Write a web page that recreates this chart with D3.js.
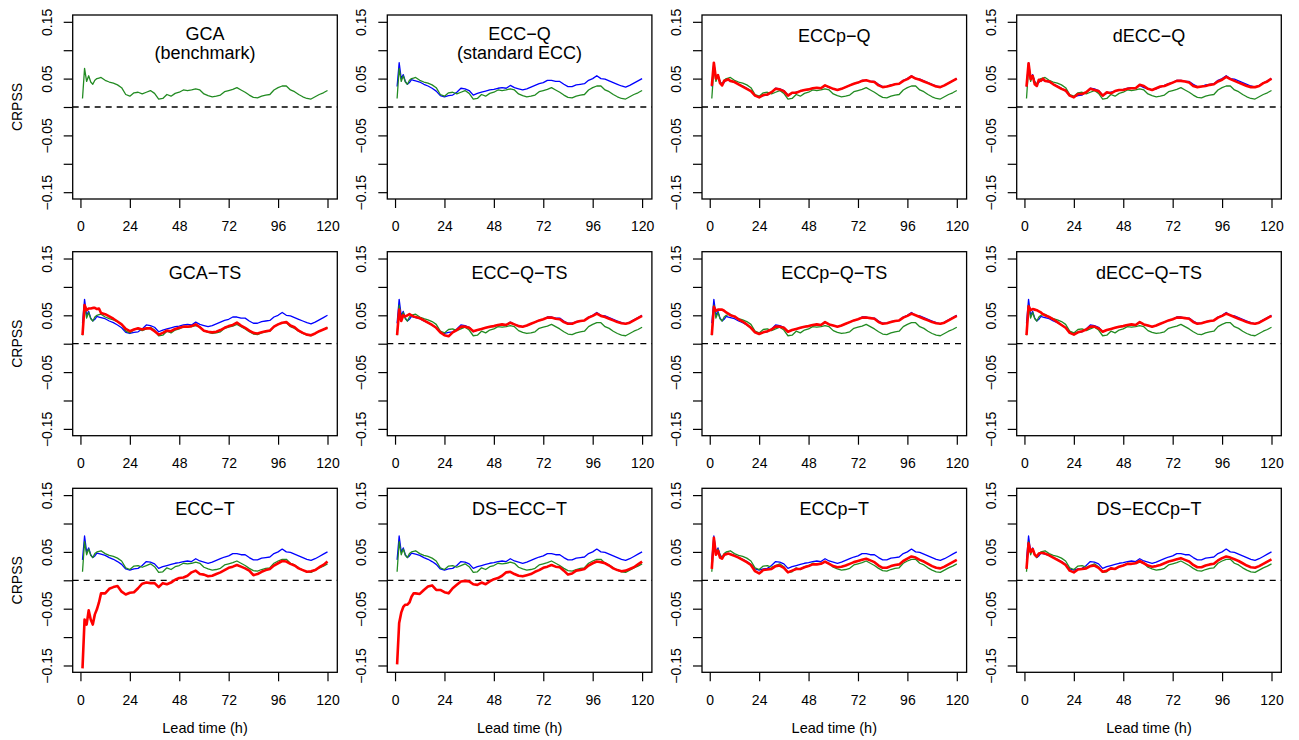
<!DOCTYPE html>
<html><head><meta charset="utf-8">
<script src="https://cdn.jsdelivr.net/npm/d3@7"></script>
<style>body{margin:0;background:#fff} svg{display:block}</style>
</head><body><svg id="c" width="1299" height="740"></svg>
<script>
// ---- data ----
const lead = [1,2,3,4,5,6,7,8,9,10,12,14,16,18,20,22,24,26,28,30,32,34,36,38,40,42,44,46,48,50,52,54,56,58,60,62,64,66,68,70,72,74,76,78,80,82,84,86,88,90,92,94,96,98,100,102,104,106,108,110,112,114,116,118,120];
const xTicks = [0,24,48,72,96,120];
const yTicks = [-0.15,-0.10,-0.05,0,0.05,0.10,0.15];
const yLabelText = ["\u22120.15","","\u22120.05","","0.05","","0.15"];

// GCA (benchmark), green
const gca = [0.015,0.068,0.045,0.055,0.044,0.040,0.047,0.050,0.051,0.052,
 0.047,0.044,0.042,0.039,0.034,0.022,0.019,0.025,0.026,0.023,
 0.026,0.029,0.024,0.014,0.015,0.022,0.019,0.024,0.026,0.030,
 0.029,0.030,0.032,0.030,0.023,0.020,0.018,0.019,0.021,0.027,
 0.029,0.031,0.034,0.030,0.026,0.021,0.017,0.016,0.019,0.021,
 0.022,0.030,0.034,0.037,0.037,0.030,0.027,0.022,0.018,0.015,
 0.014,0.018,0.022,0.025,0.029];
// ECC-Q (standard ECC), blue
const eccQ = [0.036,0.078,0.050,0.057,0.045,0.040,0.043,0.048,0.047,0.046,
 0.044,0.040,0.037,0.033,0.028,0.020,0.018,0.020,0.021,0.026,
 0.033,0.032,0.029,0.021,0.024,0.026,0.028,0.030,0.031,0.033,
 0.034,0.033,0.038,0.034,0.032,0.030,0.032,0.035,0.038,0.041,
 0.043,0.047,0.047,0.045,0.045,0.040,0.036,0.036,0.039,0.040,
 0.041,0.047,0.050,0.055,0.050,0.049,0.046,0.043,0.040,0.037,
 0.035,0.038,0.042,0.046,0.050];
// red series (one per panel)
const eccpQ = [0.037,0.078,0.050,0.056,0.042,0.038,0.046,0.047,0.049,0.046,
 0.044,0.040,0.036,0.032,0.028,0.020,0.017,0.021,0.022,0.026,
 0.032,0.031,0.028,0.020,0.025,0.025,0.028,0.030,0.031,0.033,
 0.034,0.033,0.038,0.035,0.032,0.030,0.032,0.035,0.038,0.041,
 0.043,0.046,0.047,0.045,0.044,0.038,0.035,0.036,0.038,0.040,
 0.041,0.046,0.049,0.054,0.050,0.048,0.045,0.042,0.039,0.036,
 0.035,0.038,0.042,0.046,0.050];
const deccQ = [0.036,0.077,0.049,0.055,0.040,0.037,0.048,0.046,0.050,0.046,
 0.045,0.040,0.036,0.032,0.029,0.020,0.017,0.023,0.023,0.026,
 0.032,0.030,0.028,0.020,0.026,0.024,0.028,0.030,0.030,0.032,
 0.033,0.033,0.039,0.037,0.032,0.030,0.033,0.036,0.037,0.040,
 0.043,0.046,0.046,0.045,0.043,0.037,0.035,0.036,0.037,0.039,
 0.040,0.045,0.048,0.053,0.049,0.046,0.043,0.040,0.037,0.035,
 0.035,0.037,0.042,0.045,0.050];
const gcaTS = [0.015,0.068,0.059,0.062,0.062,0.063,0.063,0.061,0.062,0.054,
 0.052,0.048,0.044,0.039,0.034,0.026,0.022,0.025,0.027,0.025,
 0.027,0.027,0.022,0.016,0.019,0.023,0.022,0.026,0.028,0.030,
 0.030,0.031,0.034,0.029,0.023,0.021,0.020,0.021,0.024,0.028,
 0.031,0.033,0.037,0.032,0.028,0.023,0.019,0.018,0.020,0.022,
 0.023,0.030,0.034,0.037,0.038,0.032,0.029,0.023,0.019,0.016,
 0.015,0.018,0.022,0.025,0.028];
const eccQTS = [0.015,0.060,0.040,0.050,0.048,0.050,0.052,0.050,0.048,0.047,
 0.045,0.041,0.037,0.033,0.028,0.020,0.015,0.013,0.020,0.024,
 0.030,0.030,0.028,0.022,0.024,0.026,0.028,0.030,0.031,0.033,
 0.034,0.033,0.037,0.034,0.031,0.030,0.032,0.035,0.038,0.041,
 0.043,0.046,0.046,0.044,0.043,0.038,0.035,0.035,0.038,0.040,
 0.041,0.046,0.049,0.053,0.049,0.047,0.044,0.041,0.038,0.036,
 0.035,0.037,0.041,0.045,0.049];
const eccpQTS = [0.015,0.065,0.058,0.060,0.060,0.060,0.058,0.055,0.053,0.050,
 0.048,0.043,0.039,0.034,0.028,0.020,0.017,0.020,0.022,0.025,
 0.030,0.030,0.028,0.021,0.024,0.026,0.028,0.030,0.031,0.033,
 0.034,0.033,0.038,0.034,0.032,0.030,0.032,0.035,0.038,0.041,
 0.043,0.046,0.046,0.045,0.044,0.038,0.035,0.036,0.038,0.040,
 0.041,0.046,0.049,0.053,0.050,0.047,0.044,0.041,0.038,0.036,
 0.035,0.037,0.041,0.045,0.049];
const deccQTS = [0.015,0.066,0.059,0.061,0.060,0.059,0.057,0.055,0.052,0.050,
 0.047,0.043,0.038,0.033,0.028,0.019,0.016,0.020,0.022,0.025,
 0.030,0.030,0.027,0.021,0.024,0.026,0.028,0.030,0.031,0.033,
 0.034,0.033,0.038,0.034,0.032,0.030,0.032,0.035,0.038,0.041,
 0.043,0.046,0.046,0.045,0.044,0.038,0.035,0.036,0.038,0.040,
 0.041,0.046,0.049,0.053,0.050,0.047,0.044,0.041,0.038,0.036,
 0.035,0.037,0.041,0.045,0.049];
const eccT = [-0.155,-0.069,-0.078,-0.053,-0.069,-0.078,-0.060,-0.051,-0.039,-0.023,
 -0.023,-0.015,-0.012,-0.010,-0.020,-0.025,-0.022,-0.021,-0.014,-0.006,
 -0.004,-0.005,-0.005,-0.012,-0.005,-0.007,-0.004,0.001,0.004,0.005,
 0.008,0.014,0.017,0.011,0.010,0.007,0.008,0.011,0.014,0.018,
 0.022,0.024,0.027,0.024,0.021,0.017,0.009,0.011,0.015,0.018,
 0.020,0.026,0.030,0.034,0.033,0.029,0.026,0.021,0.018,0.015,
 0.016,0.018,0.023,0.027,0.033];
const dsEccT = [-0.148,-0.075,-0.057,-0.047,-0.043,-0.043,-0.039,-0.029,-0.023,-0.023,
 -0.024,-0.017,-0.011,-0.009,-0.017,-0.017,-0.021,-0.023,-0.014,-0.008,
 -0.002,-0.001,-0.002,-0.007,-0.008,-0.004,-0.007,-0.002,0.002,0.004,
 0.008,0.014,0.015,0.011,0.008,0.007,0.009,0.011,0.015,0.018,
 0.022,0.024,0.027,0.024,0.023,0.017,0.010,0.012,0.017,0.018,
 0.020,0.026,0.030,0.033,0.032,0.030,0.026,0.021,0.018,0.016,
 0.017,0.020,0.023,0.028,0.033];
const eccpT = [0.020,0.075,0.045,0.052,0.040,0.038,0.045,0.046,0.047,0.046,
 0.043,0.040,0.036,0.032,0.027,0.016,0.012,0.018,0.019,0.020,
 0.025,0.026,0.022,0.014,0.017,0.020,0.020,0.023,0.025,0.028,
 0.028,0.029,0.033,0.029,0.025,0.023,0.024,0.026,0.029,0.032,
 0.034,0.036,0.038,0.035,0.032,0.026,0.022,0.022,0.025,0.027,
 0.028,0.034,0.038,0.042,0.040,0.036,0.033,0.029,0.025,0.022,
 0.021,0.024,0.028,0.032,0.036];
const dsEccpT = [0.020,0.065,0.050,0.055,0.045,0.042,0.047,0.048,0.048,0.047,
 0.044,0.040,0.036,0.032,0.027,0.017,0.014,0.019,0.020,0.021,
 0.025,0.026,0.022,0.015,0.017,0.021,0.020,0.024,0.026,0.029,
 0.029,0.030,0.034,0.030,0.026,0.024,0.025,0.027,0.030,0.033,
 0.035,0.037,0.039,0.036,0.033,0.027,0.023,0.023,0.026,0.028,
 0.029,0.035,0.039,0.042,0.040,0.037,0.034,0.030,0.026,0.023,
 0.022,0.025,0.029,0.033,0.037];

const panels = [
 {title:["GCA","(benchmark)"], blue:false, red:null},
 {title:["ECC\u2212Q","(standard ECC)"], blue:true, red:null},
 {title:["ECCp\u2212Q"], blue:true, red:eccpQ},
 {title:["dECC\u2212Q"], blue:true, red:deccQ},
 {title:["GCA\u2212TS"], blue:true, red:gcaTS},
 {title:["ECC\u2212Q\u2212TS"], blue:true, red:eccQTS},
 {title:["ECCp\u2212Q\u2212TS"], blue:true, red:eccpQTS},
 {title:["dECC\u2212Q\u2212TS"], blue:true, red:deccQTS},
 {title:["ECC\u2212T"], blue:true, red:eccT},
 {title:["DS\u2212ECC\u2212T"], blue:true, red:dsEccT},
 {title:["ECCp\u2212T"], blue:true, red:eccpT},
 {title:["DS\u2212ECCp\u2212T"], blue:true, red:dsEccpT}
];

// ---- layout ----
const FONT = "'Liberation Sans', Arial, Helvetica, sans-serif";
const colLeft = [72.7, 387.3, 702.0, 1016.7];
const rowTop = [15, 251.7, 488.3];
const pw = 264.6, ph = 184;
const x = d3.scaleLinear().domain([1 - 0.04*119, 120 + 0.04*119]).range([0, pw]);
const y = d3.scaleLinear().domain([-0.162, 0.162]).range([ph, 0]);
const line = arr => d3.line().x((d,i) => x(lead[i])).y(d => y(d))(arr);

const svg = d3.select("#c");
svg.append("rect").attr("width",1299).attr("height",740).attr("fill","#fff");

panels.forEach((p, k) => {
  const r = Math.floor(k/4), c = k%4;
  const g = svg.append("g").attr("transform", `translate(${colLeft[c]},${rowTop[r]})`);

  // x axis
  const xa = g.append("g").attr("transform", `translate(0,${ph})`)
    .call(d3.axisBottom(x).tickValues(xTicks).tickSize(9).tickPadding(13.5).tickFormat(d3.format("d")));
  xa.select(".domain").remove();
  xa.selectAll("line").attr("stroke","#000").attr("stroke-width",1.2);
  xa.selectAll("text").attr("font-family",FONT).attr("font-size",14).attr("fill","#000");

  // y axis
  const ya = g.append("g")
    .call(d3.axisLeft(y).tickValues(yTicks).tickSize(9).tickFormat((d,i) => yLabelText[i]));
  ya.select(".domain").remove();
  ya.selectAll("line").attr("stroke","#000").attr("stroke-width",1.2);
  ya.selectAll("text").attr("font-family",FONT).attr("font-size",14).attr("fill","#000")
    .attr("transform","rotate(-90)").attr("x",0).attr("y",-21).attr("dy",null)
    .attr("text-anchor","middle");

  // zero reference
  g.append("line").attr("x1",0).attr("x2",pw).attr("y1",y(0)).attr("y2",y(0))
    .attr("stroke","#000").attr("stroke-width",1.3).attr("stroke-dasharray","6,5");

  // series
  if (p.blue) g.append("path").attr("d", line(eccQ)).attr("fill","none")
    .attr("stroke","#0000FF").attr("stroke-width",1.3).attr("stroke-linejoin","round");
  g.append("path").attr("d", line(gca)).attr("fill","none")
    .attr("stroke","#228B22").attr("stroke-width",1.3).attr("stroke-linejoin","round");
  if (p.red) g.append("path").attr("d", line(p.red)).attr("fill","none")
    .attr("stroke","#FF0000").attr("stroke-width",2.6).attr("stroke-linejoin","round");

  // box
  g.append("rect").attr("x",0).attr("y",0).attr("width",pw).attr("height",ph)
    .attr("fill","none").attr("stroke","#000").attr("stroke-width",1.3);

  // title
  const t = g.append("text").attr("font-family",FONT).attr("font-size",18)
    .attr("text-anchor","middle").attr("fill","#000");
  if (p.title.length === 1) {
    t.append("tspan").attr("x",pw/2).attr("y",27).text(p.title[0]);
  } else {
    t.append("tspan").attr("x",pw/2).attr("y",24.5).text(p.title[0]);
    t.append("tspan").attr("x",pw/2).attr("y",44).text(p.title[1]);
  }

  if (c === 0) {
    g.append("text").attr("font-family",FONT).attr("font-size",14).attr("fill","#000")
      .attr("text-anchor","middle")
      .attr("transform",`translate(-51,${ph/2}) rotate(-90)`).text("CRPSS");
  }
  if (r === 2) {
    g.append("text").attr("font-family",FONT).attr("font-size",14.5).attr("fill","#000")
      .attr("text-anchor","middle").attr("x",pw/2).attr("y",ph+61).text("Lead time (h)");
  }
});
</script></body></html>
